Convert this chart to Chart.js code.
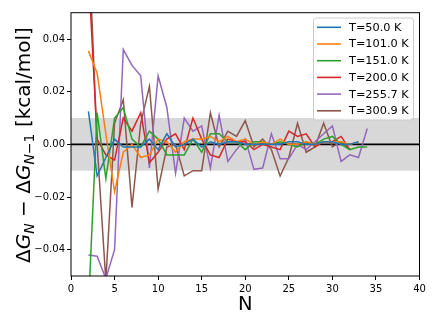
<!DOCTYPE html>
<html>
<head>
<meta charset="utf-8">
<script src="https://cdn.jsdelivr.net/npm/chart.js@4"></script>
<style>
  html, body { margin: 0; padding: 0; background: #fff; }
  canvas { display: block; }
</style>
</head>
<body>
<canvas id="chart" width="436" height="327"></canvas>
<script>
// N values start at 2 for every series
const seriesLabels = ['T=50.0 K', 'T=101.0 K', 'T=151.0 K', 'T=200.0 K', 'T=255.7 K', 'T=300.9 K'];
const seriesColors = ['#1f77b4', '#ff7f0e', '#2ca02c', '#d62728', '#9467bd', '#8c564b'];

const t50 = [0.0125, -0.012, -0.005, 0.002, -0.001, -0.001, -0.001, 0.002, -0.002, 0.004,
  -0.001, 0.000, 0.002, -0.001, 0.001, 0.000, 0.001, 0.001, 0.000, 0.000,
  0.000, 0.000, 0.000, 0.001, 0.001, 0.000, 0.000, 0.001, 0.001, 0.000,
  0.000, 0.001];
const t101 = [0.0355, 0.027, 0.004, -0.018, -0.003, 0.000, -0.005, -0.004, 0.002, 0.001,
  -0.003, 0.001, 0.002, 0.002, 0.003, 0.001, 0.003, 0.001, 0.002, 0.000,
  0.001, 0.000, 0.002, 0.000, 0.000, 0.001, 0.000, 0.001, 0.001, 0.001,
  0.000, 0.001];
const t151 = [-0.062, 0.012, -0.013, 0.010, 0.014, 0.002, -0.001, 0.005, 0.002, -0.004,
  -0.004, -0.004, 0.002, -0.003, 0.004, 0.004, 0.001, 0.001, -0.002, 0.001,
  0.001, 0.000, 0.001, 0.000, -0.001, 0.001, 0.000, 0.002, 0.003, 0.000,
  -0.002, -0.001, -0.001];
const t200 = [0.066, 0.002, -0.004, -0.006, 0.010, 0.005, 0.012, -0.007, -0.003, 0.002,
  0.004, -0.002, 0.010, 0.002, -0.004, -0.005, 0.002, 0.001, 0.001, -0.002,
  0.000, -0.001, -0.002, 0.005, 0.003, 0.004, -0.001, 0.001, 0.001, 0.003,
  -0.002];
const t256 = [-0.042, -0.0425, -0.051, -0.040, 0.036, 0.030, 0.026, -0.009, 0.026, 0.014,
  -0.011, 0.010, 0.005, 0.007, -0.009, 0.011, -0.0065, -0.002, 0.002, -0.0095,
  -0.009, 0.004, -0.0055, -0.0055, 0.000, -0.002, 0.001, 0.004, 0.007, -0.0065,
  -0.004, -0.005, 0.006];
const t301 = [0.08, 0.000, -0.052, 0.008, 0.017, -0.024, 0.008, 0.022, -0.017, -0.001,
  0.000, -0.012, -0.010, -0.010, 0.012, -0.001, 0.005, 0.003, 0.009, -0.001,
  0.002, -0.002, -0.012, -0.005, 0.008, -0.003, -0.001, 0.008, -0.001, 0.001,
  -0.002];

const xTicks = [0, 5, 10, 15, 20, 25, 30, 35, 40];
const yTicks = [-0.04, -0.02, 0.00, 0.02, 0.04];
const bandLimit = 0.01;

const allSeries = [t50, t101, t151, t200, t256, t301];

function toPoints(values) {
  return values.map((v, i) => ({ x: i + 2, y: v }));
}

const tickFont = { family: 'DejaVu Sans', size: 10 };

const backgroundPlugin = {
  id: 'band',
  beforeDatasetsDraw(chart) {
    const { ctx, chartArea, scales } = chart;
    const yTop = scales.y.getPixelForValue(bandLimit);
    const yBot = scales.y.getPixelForValue(-bandLimit);
    ctx.save();
    ctx.fillStyle = 'rgb(216,216,216)';
    ctx.fillRect(chartArea.left, yTop, chartArea.right - chartArea.left, yBot - yTop);
    const y0 = scales.y.getPixelForValue(0);
    ctx.strokeStyle = '#000';
    ctx.lineWidth = 1.6;
    ctx.beginPath();
    ctx.moveTo(chartArea.left, y0);
    ctx.lineTo(chartArea.right, y0);
    ctx.stroke();
    ctx.restore();
  }
};

const framePlugin = {
  id: 'frame',
  afterDatasetsDraw(chart) {
    const { ctx, chartArea } = chart;
    ctx.save();
    ctx.strokeStyle = '#000';
    ctx.lineWidth = 1;
    ctx.strokeRect(chartArea.left, chartArea.top, chartArea.right - chartArea.left, chartArea.bottom - chartArea.top);

    // legend box, upper right
    const bx = 313.5, by = 18, bw = 100, bh = 102, r = 3;
    ctx.fillStyle = 'rgba(255,255,255,0.85)';
    ctx.strokeStyle = '#cccccc';
    ctx.beginPath();
    ctx.moveTo(bx + r, by);
    ctx.arcTo(bx + bw, by, bx + bw, by + bh, r);
    ctx.arcTo(bx + bw, by + bh, bx, by + bh, r);
    ctx.arcTo(bx, by + bh, bx, by, r);
    ctx.arcTo(bx, by, bx + bw, by, r);
    ctx.closePath();
    ctx.fill();
    ctx.stroke();

    ctx.font = '11.3px "DejaVu Sans"';
    ctx.textBaseline = 'middle';
    ctx.textAlign = 'left';
    chart.data.datasets.forEach((ds, i) => {
      const yy = 27.3 + i * 16.7;
      ctx.strokeStyle = ds.borderColor;
      ctx.lineWidth = 1.6;
      ctx.beginPath();
      ctx.moveTo(317, yy);
      ctx.lineTo(341, yy);
      ctx.stroke();
      ctx.fillStyle = '#000';
      ctx.fillText(ds.label, 349, yy + 0.5);
    });
    ctx.restore();
  }
};

const yTitlePlugin = {
  id: 'yTitle',
  afterDraw(chart) {
    const { ctx } = chart;
    const big = 20, small = 14;
    const parts = [
      { t: 'Δ', f: `${big}px "DejaVu Sans"`, dy: 0 },
      { t: 'G', f: `italic ${big}px "DejaVu Sans"`, dy: 0 },
      { t: 'N', f: `italic ${small}px "DejaVu Sans"`, dy: 4 },
      { t: ' − Δ', f: `${big}px "DejaVu Sans"`, dy: 0 },
      { t: 'G', f: `italic ${big}px "DejaVu Sans"`, dy: 0 },
      { t: 'N', f: `italic ${small}px "DejaVu Sans"`, dy: 4 },
      { t: '−1', f: `${small}px "DejaVu Sans"`, dy: 4 },
      { t: ' [kcal/mol]', f: `${big}px "DejaVu Sans"`, dy: 0 }
    ];
    ctx.save();
    let total = 0;
    parts.forEach(p => { ctx.font = p.f; p.w = ctx.measureText(p.t).width; total += p.w; });
    ctx.translate(30, 145);
    ctx.rotate(-Math.PI / 2);
    ctx.fillStyle = '#000';
    ctx.textBaseline = 'alphabetic';
    ctx.textAlign = 'left';
    let x = -total / 2;
    parts.forEach(p => {
      ctx.font = p.f;
      ctx.fillText(p.t, x, p.dy);
      x += p.w;
    });
    ctx.restore();
  }
};

new Chart(document.getElementById('chart'), {
  type: 'line',
  data: {
    datasets: allSeries.map((vals, i) => ({
      label: seriesLabels[i],
      data: toPoints(vals),
      borderColor: seriesColors[i],
      backgroundColor: seriesColors[i],
      borderWidth: 1.5,
      pointRadius: 0,
      fill: false,
      tension: 0
    }))
  },
  options: {
    responsive: false,
    animation: false,
    layout: { padding: { left: 0, top: 12.7, right: 16.5, bottom: 0 } },
    plugins: {
      legend: { display: false },
      tooltip: { enabled: false }
    },
    scales: {
      x: {
        type: 'linear',
        min: 0,
        max: 40,
        afterBuildTicks: s => { s.ticks = xTicks.map(v => ({ value: v })); },
        afterFit: s => { s.height = 51; },
        border: { display: false },
        grid: { drawOnChartArea: false, drawTicks: true, tickLength: 4, color: '#000' },
        ticks: { font: tickFont, color: '#000', padding: 3, maxRotation: 0, callback: v => String(v) },
        title: { display: true, text: 'N', font: { family: 'DejaVu Sans', size: 19.5 }, color: '#000', padding: { top: 0, bottom: 10 } }
      },
      y: {
        min: -0.05,
        max: 0.05,
        afterBuildTicks: s => { s.ticks = yTicks.map(v => ({ value: v })); },
        afterFit: s => { s.width = 71; },
        border: { display: false },
        grid: { drawOnChartArea: false, drawTicks: true, tickLength: 4, color: '#000' },
        ticks: { font: tickFont, color: '#000', padding: 2, callback: v => v.toFixed(2).replace('-', '−') }
      }
    }
  },
  plugins: [backgroundPlugin, framePlugin, yTitlePlugin]
});
</script>
</body>
</html>
